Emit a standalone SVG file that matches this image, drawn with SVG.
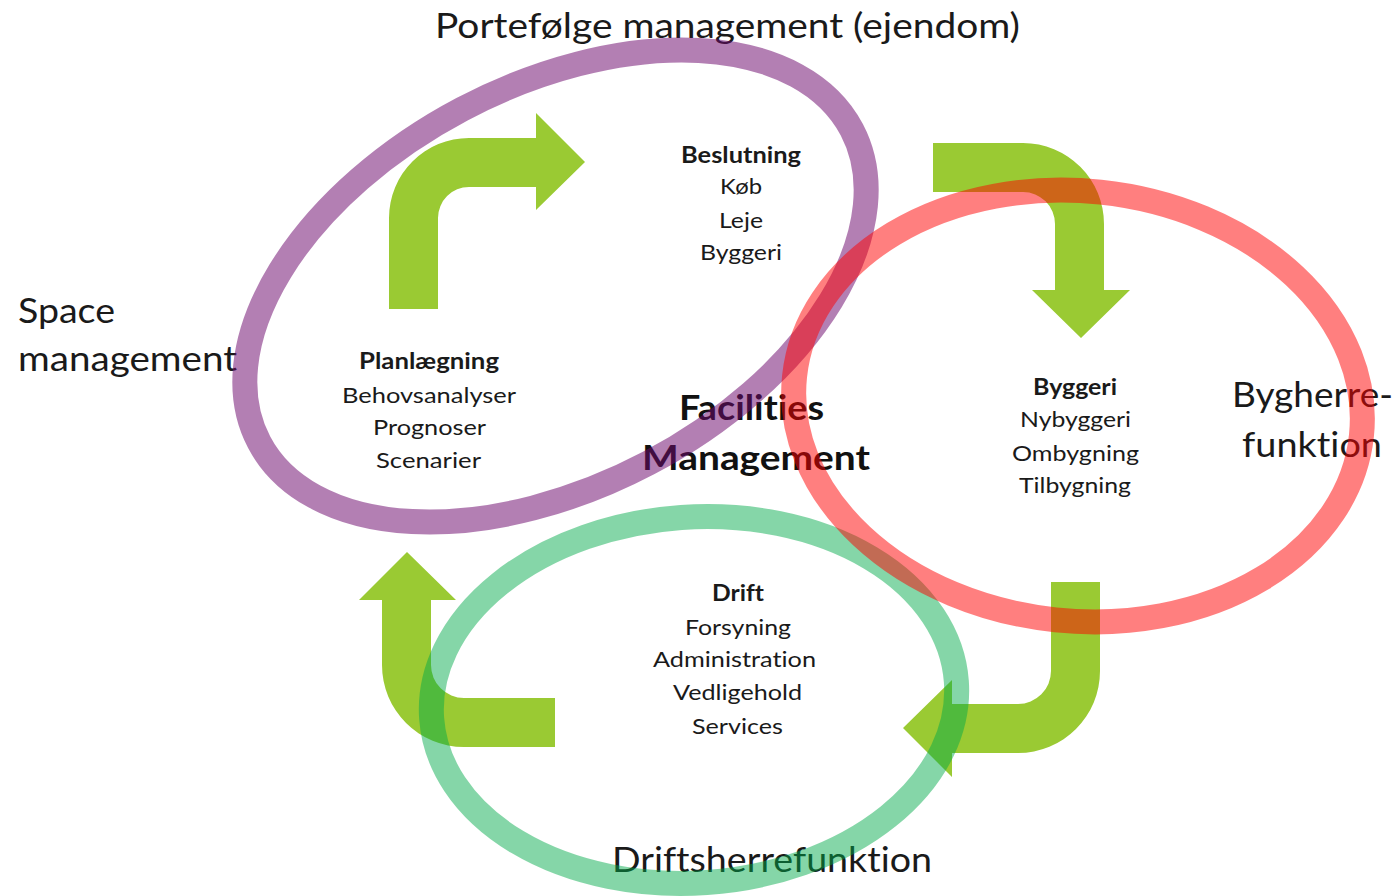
<svg xmlns="http://www.w3.org/2000/svg" width="1399" height="896" viewBox="0 0 1399 896">
<style>
.arrow{fill:#9ACA33}
.ring{fill:none;stroke-width:25}
text{font-variant-ligatures:none;font-feature-settings:"liga" 0,"clig" 0,"dlig" 0}
.big{font-family:Lato,"Liberation Sans",sans-serif;font-size:34px;fill:#1a1a1a}
.bigb{font-family:Lato,"Liberation Sans",sans-serif;font-size:34px;font-weight:bold;fill:#111}
.t{font-family:Lato,"Liberation Sans",sans-serif;font-size:22px;fill:#1a1a1a;text-anchor:middle}
.tb{font-weight:bold}
</style>
<rect width="1399" height="896" fill="#fff"/>
<g id="connectors">
<path class="arrow" d="M389,309 L389,218 A80,80 0 0 1 469,138 L536,138 L536,113 L585,162 L536,210 L536,187 L469,187 A31,31 0 0 0 438,218 L438,309 Z"/>
<path class="arrow" d="M933,143 L1023,143 A81,81 0 0 1 1104,224 L1104,290 L1130,290 L1081,338 L1032,290 L1055,290 L1055,224 A32,32 0 0 0 1023,192 L933,192 Z"/>
<path class="arrow" d="M1051,582 L1100,582 L1100,671 A82,82 0 0 1 1018,753 L952,753 L952,777 L903,728 L952,680 L952,704 L1018,704 A33,33 0 0 0 1051,671 Z"/>
<path class="arrow" d="M555,698 L555,747 L464,747 A82,82 0 0 1 382,665 L382,600 L359,600 L407,552 L456,600 L431,600 L431,665 A33,33 0 0 0 464,698 Z"/>
</g>
<g id="fm">
<text class="bigb" x="751.5" y="420" text-anchor="middle" textLength="145" lengthAdjust="spacingAndGlyphs">Facilities</text>
<text class="bigb" x="756" y="470" text-anchor="middle" textLength="228" lengthAdjust="spacingAndGlyphs">Management</text>
</g>
<g id="space">
<text class="big" x="18" y="323" textLength="97" lengthAdjust="spacingAndGlyphs">Space</text>
<text class="big" x="18" y="371" textLength="219" lengthAdjust="spacingAndGlyphs">management</text>
</g>
<g id="drift">
<text class="t tb" x="738" y="601" textLength="52" lengthAdjust="spacingAndGlyphs">Drift</text>
<text class="t" x="738" y="635" textLength="106" lengthAdjust="spacingAndGlyphs">Forsyning</text>
<text class="t" x="734.5" y="667" textLength="163" lengthAdjust="spacingAndGlyphs">Administration</text>
<text class="t" x="737.5" y="700" textLength="129" lengthAdjust="spacingAndGlyphs">Vedligehold</text>
<text class="t" x="737.5" y="734" textLength="91" lengthAdjust="spacingAndGlyphs">Services</text>
<text class="big" x="772" y="872" text-anchor="middle" textLength="320" lengthAdjust="spacingAndGlyphs">Driftsherrefunktion</text>
<ellipse class="ring" cx="694" cy="700" rx="263" ry="183" transform="rotate(-4 694 700)" stroke="#00A949" stroke-opacity="0.48"/>
</g>
<g id="portefolje">
<text class="big" x="727.5" y="38" text-anchor="middle" textLength="585" lengthAdjust="spacingAndGlyphs">Portefølge management (ejendom)</text>
<text class="t tb" x="741" y="163" textLength="120" lengthAdjust="spacingAndGlyphs">Beslutning</text>
<text class="t" x="741" y="194" textLength="42" lengthAdjust="spacingAndGlyphs">Køb</text>
<text class="t" x="741" y="228" textLength="44" lengthAdjust="spacingAndGlyphs">Leje</text>
<text class="t" x="741" y="260" textLength="82" lengthAdjust="spacingAndGlyphs">Byggeri</text>
<text class="t tb" x="429" y="369" textLength="140" lengthAdjust="spacingAndGlyphs">Planlægning</text>
<text class="t" x="429" y="403" textLength="174" lengthAdjust="spacingAndGlyphs">Behovsanalyser</text>
<text class="t" x="429.5" y="435" textLength="113" lengthAdjust="spacingAndGlyphs">Prognoser</text>
<text class="t" x="428.5" y="468" textLength="105" lengthAdjust="spacingAndGlyphs">Scenarier</text>
<ellipse class="ring" cx="555.5" cy="286" rx="335" ry="200" transform="rotate(-27.8 555.5 286)" stroke="#6E0A6E" stroke-opacity="0.52"/>
</g>
<g id="bygherre">
<text class="t tb" x="1075" y="395" textLength="84" lengthAdjust="spacingAndGlyphs">Byggeri</text>
<text class="t" x="1075.5" y="427" textLength="111" lengthAdjust="spacingAndGlyphs">Nybyggeri</text>
<text class="t" x="1075.5" y="461" textLength="127" lengthAdjust="spacingAndGlyphs">Ombygning</text>
<text class="t" x="1075" y="493" textLength="112" lengthAdjust="spacingAndGlyphs">Tilbygning</text>
<text class="big" x="1312.5" y="407" text-anchor="middle" textLength="161" lengthAdjust="spacingAndGlyphs">Bygherre-</text>
<text class="big" x="1312" y="457" text-anchor="middle" textLength="140" lengthAdjust="spacingAndGlyphs">funktion</text>
<ellipse class="ring" cx="1078" cy="406" rx="285" ry="215" transform="rotate(6 1078 406)" stroke="#FF0000" stroke-opacity="0.5"/>
</g>
</svg>
